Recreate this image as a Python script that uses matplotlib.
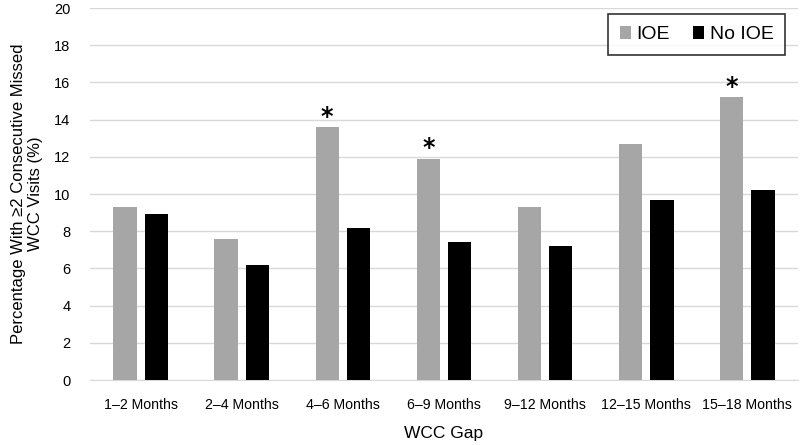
import numpy as np
import matplotlib.pyplot as plt

plt.rcParams['font.family'] = ['Liberation Sans', 'DejaVu Sans']

gaps = ['1–2 Months', '2–4 Months', '4–6 Months', '6–9 Months',
        '9–12 Months', '12–15 Months', '15–18 Months']
ioe = [9.3, 7.6, 13.6, 11.9, 9.3, 12.7, 15.2]
no_ioe = [8.9, 6.2, 8.2, 7.4, 7.2, 9.7, 10.2]
signif = [False, False, True, True, False, False, True]

fig = plt.figure(figsize=(8, 4.45), dpi=100)
ax = fig.add_axes([0.1125, 0.146, 0.885, 0.836])

x = np.arange(len(gaps))
w = 0.23
off = 0.155
ax.bar(x - off, ioe, w, color='#a6a6a6', label='IOE', zorder=3)
ax.bar(x + off, no_ioe, w, color='#000000', label='No IOE', zorder=3)

for xi, v, s in zip(x, ioe, signif):
    if s:
        ax.text(xi - off, v + 0.55, '*', ha='center', va='center',
                fontsize=17, fontweight='bold', family='DejaVu Sans')

ax.set_xlim(-0.5, len(gaps) - 0.5)
ax.set_ylim(0, 20)
ax.set_yticks(range(0, 21, 2))
ax.set_xticks(x)
ax.set_xticklabels(gaps, fontsize=10.2)
ax.tick_params(axis='y', labelsize=10.5, length=0, pad=14)
ax.tick_params(axis='x', length=0, pad=13)
ax.grid(axis='y', color='#d9d9d9', lw=1, zorder=0)
for sp in ['top', 'right', 'left']:
    ax.spines[sp].set_visible(False)
ax.spines['bottom'].set_color('#d9d9d9')

ax.set_xlabel('WCC Gap', fontsize=12.5, labelpad=10)
ax.set_ylabel('Percentage With ≥2 Consecutive Missed\nWCC Visits (%)', fontsize=12,
              labelpad=8)

leg = ax.legend(loc='upper right', bbox_to_anchor=(0.982, 0.984), ncol=2, fontsize=14,
                frameon=True, fancybox=False, handlelength=0.55, handleheight=0.65,
                columnspacing=1.2, handletextpad=0.3, borderpad=0.6, borderaxespad=0)
leg.get_frame().set_edgecolor('black')
leg.get_frame().set_linewidth(1.2)

fig.savefig('out.png', dpi=100)
